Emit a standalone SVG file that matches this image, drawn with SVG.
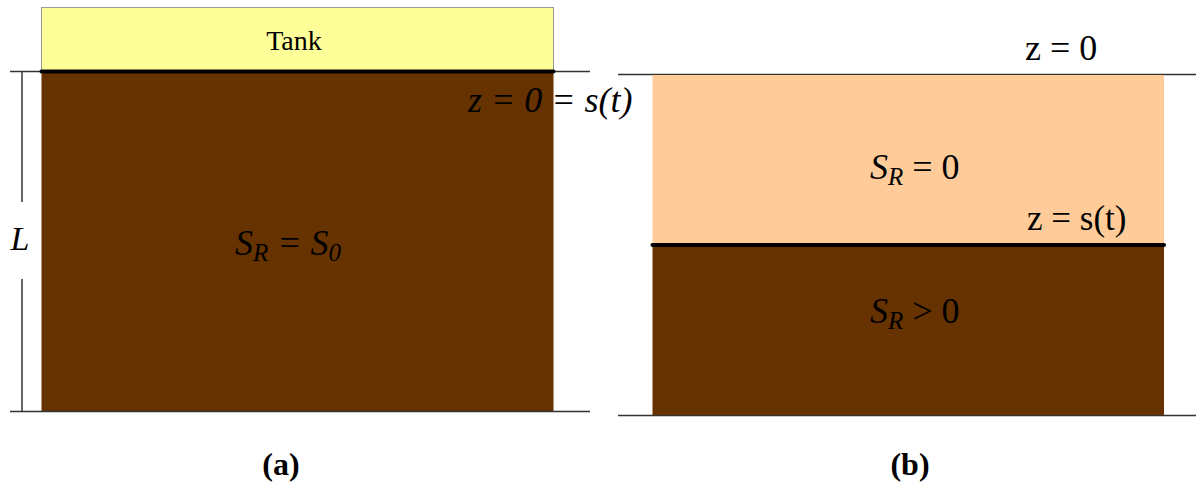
<svg xmlns="http://www.w3.org/2000/svg" width="1198" height="490" viewBox="0 0 1198 490">
<style>
.t{font-family:"Liberation Serif","Times New Roman",serif;fill:#000}
.i{font-style:italic}
.thin{stroke:#333;stroke-width:1.5;fill:none}
.thick{stroke:#000;stroke-width:4;stroke-linecap:round}
.soil{fill:#663300}
</style>
<rect width="1198" height="490" fill="#fff"/>
<g id="panel-a">
  <g id="tank">
    <rect x="41.5" y="7.5" width="512" height="64" fill="#FFFF99" stroke="#999" stroke-width="1"/>
    <text class="t" x="294" y="50" font-size="28" text-anchor="middle">Tank</text>
  </g>
  <g id="soil-a">
    <rect class="soil" x="41.5" y="71.5" width="512" height="340"/>
    <text class="t i" x="235" y="255" font-size="36">S<tspan font-size="25" dy="6">R</tspan><tspan dy="-6"> = S</tspan><tspan font-size="25" dy="6">0</tspan></text>
  </g>
</g>
<g id="connectors">
  <line class="thin" x1="10" y1="71.5" x2="590" y2="71.5"/>
  <line class="thin" x1="10" y1="411.5" x2="590" y2="411.5"/>
  <line class="thin" x1="22" y1="71.5" x2="22" y2="202"/>
  <line class="thin" x1="22" y1="279" x2="22" y2="411.5"/>
  <line class="thick" x1="41.5" y1="71.5" x2="553.5" y2="71.5"/>
  <line class="thin" x1="618" y1="74.5" x2="1196" y2="74.5"/>
  <line class="thin" x1="618" y1="415.5" x2="1196" y2="415.5"/>
</g>
<g id="labels-a">
  <text class="t i" x="20" y="250" font-size="34" text-anchor="middle">L</text>
  <text class="t i" x="468" y="112" font-size="36">z = 0 = s(t)</text>
  <text class="t" x="281" y="475" font-size="32" font-weight="bold" text-anchor="middle">(a)</text>
</g>
<g id="panel-b">
  <g id="dry-zone">
    <rect x="652.5" y="75" width="511.5" height="170" fill="#FFCC99"/>
    <text class="t" x="870" y="179" font-size="36"><tspan class="i">S</tspan><tspan class="i" font-size="25" dy="6">R</tspan><tspan dy="-6"> = 0</tspan></text>
  </g>
  <g id="wet-zone">
    <rect class="soil" x="652.5" y="245" width="511.5" height="170"/>
    <text class="t" x="870" y="323" font-size="36"><tspan class="i">S</tspan><tspan class="i" font-size="25" dy="6">R</tspan><tspan dy="-6"> &gt; 0</tspan></text>
  </g>
  <line class="thick" x1="652.5" y1="245" x2="1164" y2="245"/>
  <text class="t" x="1025" y="60" font-size="36">z = 0</text>
  <text class="t" x="1027" y="230" font-size="35">z = s(t)</text>
  <text class="t" x="910" y="475" font-size="32" font-weight="bold" text-anchor="middle">(b)</text>
</g>
</svg>
